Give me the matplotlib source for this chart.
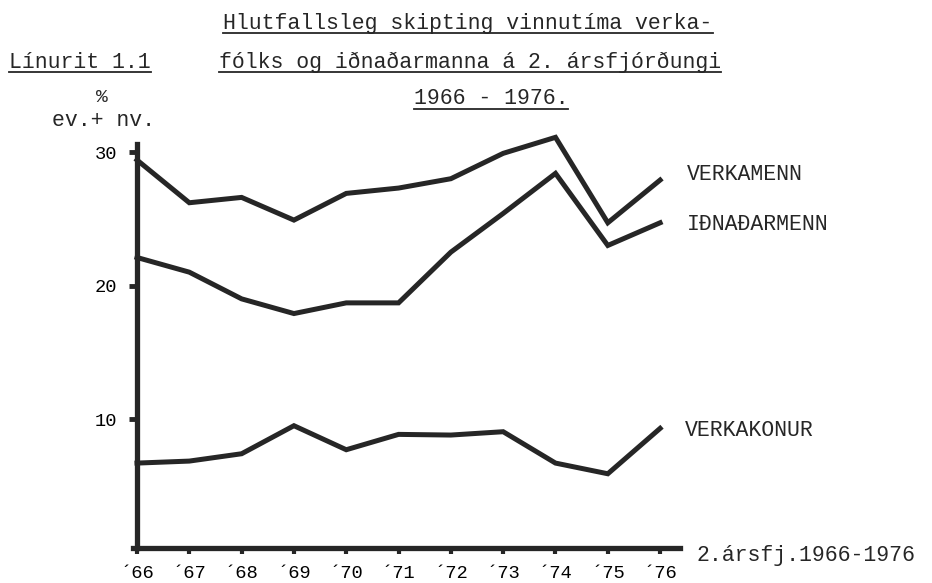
import matplotlib
matplotlib.use("Agg")
import matplotlib.pyplot as plt
from matplotlib.lines import Line2D

# ---- data (share of working hours, %) ----
years = [66, 67, 68, 69, 70, 71, 72, 73, 74, 75, 76]
year_labels = ["´66", "´67", "´68", "´69", "´70", "´71", "´72", "´73", "´74", "´75", "´76"]
verkamenn = [29.4, 26.2, 26.6, 24.9, 26.9, 27.3, 28.0, 29.9, 31.1, 24.7, 27.9]
idnadarmenn = [22.1, 21.0, 19.0, 17.9, 18.7, 18.7, 22.5, 25.4, 28.4, 23.0, 24.7]
verkakonur = [6.7, 6.85, 7.4, 9.5, 7.7, 8.85, 8.8, 9.05, 6.7, 5.9, 9.3]
y_ticks = [10, 20, 30]

W, H = 932, 583
INK = "#262626"
FONT = "Liberation Mono"
plt.rcParams["font.family"] = [FONT, "DejaVu Sans Mono"]


def px(x, y):
    # pixel position (from top-left) -> figure fraction
    return x / W, 1 - y / H


fig = plt.figure(figsize=(W / 100, H / 100), dpi=100)
ax = fig.add_axes([137 / W, 1 - 548 / H, (680 - 137) / W, (548 - 144) / H])

for series in (verkamenn, idnadarmenn, verkakonur):
    ax.plot(years, series, color=INK, lw=3.6, solid_joinstyle="miter", clip_on=False)

ax.set_xlim(66, 76.38)
ax.set_ylim(0.34, 30.6)
for side in ("top", "right"):
    ax.spines[side].set_visible(False)
for side in ("left", "bottom"):
    ax.spines[side].set_linewidth(3.8)
    ax.spines[side].set_color(INK)
ax.spines["bottom"].set_bounds(65.92, 76.38)

ax.set_xticks(years)
ax.set_xticklabels(year_labels)
ax.set_yticks(y_ticks)
ax.tick_params(axis="x", length=4, width=3, color=INK, pad=8, labelsize=13.5)
ax.tick_params(axis="y", length=6, width=3.5, color=INK, pad=8, labelsize=13.5)
ax.set_facecolor("white")

# line labels and axis annotations (typewriter style text)
fs = 15.5
fig.text(*px(687, 175), "VERKAMENN", fontsize=fs, va="center", ha="left", color=INK)
fig.text(*px(687, 225), "IÐNAÐARMENN", fontsize=fs, va="center", ha="left", color=INK)
fig.text(*px(685, 430), "VERKAKONUR", fontsize=fs, va="center", ha="left", color=INK)
fig.text(*px(697, 556), "2.ársfj.1966-1976", fontsize=fs, va="center", ha="left", color=INK)
fig.text(*px(102, 98), "%", fontsize=14, va="center", ha="center", color=INK)
fig.text(*px(104, 121), "ev.+ nv.", fontsize=fs, va="center", ha="center", color=INK)

titles = [
    fig.text(*px(468, 23), "Hlutfallsleg skipting vinnutíma verka-", fontsize=fs,
             va="center", ha="center", color=INK),
    fig.text(*px(470, 62), "fólks og iðnaðarmanna á 2. ársfjórðungi", fontsize=fs,
             va="center", ha="center", color=INK),
    fig.text(*px(491, 99), "1966 - 1976.", fontsize=fs, va="center", ha="center", color=INK),
    fig.text(*px(80, 62), "Línurit 1.1", fontsize=fs, va="center", ha="center", color=INK),
]

# underline the heading texts
fig.canvas.draw()
renderer = fig.canvas.get_renderer()
for t in titles:
    bb = t.get_window_extent(renderer).transformed(fig.transFigure.inverted())
    yline = bb.y0 + 1 / H
    fig.add_artist(Line2D([bb.x0, bb.x1], [yline, yline], transform=fig.transFigure,
                          color=INK, lw=1.3))

fig.savefig("out.png", dpi=100, facecolor="white")
